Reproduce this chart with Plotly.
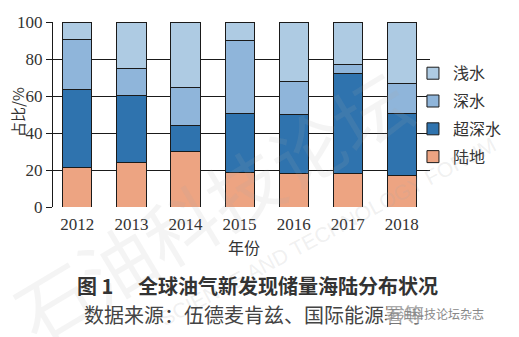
import plotly.graph_objects as go

years = ["2012", "2013", "2014", "2015", "2016", "2017", "2018"]
land = [21.5, 24.2, 30.1, 18.8, 17.9, 17.9, 17.2]
ultra_deep = [41.9, 36.0, 14.0, 31.7, 32.1, 54.3, 33.3]
deep = [26.9, 14.5, 20.4, 39.3, 17.9, 4.9, 16.2]
shallow = [9.7, 25.3, 35.5, 10.2, 32.1, 22.9, 33.3]
y_ticks = [0, 20, 40, 60, 80, 100]

series = [
    ("陆地", land, "#EDA482", 4),
    ("超深水", ultra_deep, "#2F73AE", 3),
    ("深水", deep, "#8FB5DA", 2),
    ("浅水", shallow, "#AECBE3", 1),
]

fig = go.Figure()
for name, vals, color, rank in series:
    fig.add_trace(go.Bar(
        x=years, y=vals, name=name, legendgroup=name, legendrank=rank,
        marker=dict(color=color, line=dict(color="#1a1a1a", width=1)),
        width=0.54,
    ))

serif = "Liberation Serif, Noto Sans CJK SC, serif"
cjk = "Noto Sans CJK SC, sans-serif"

L, R, T, B = 53, 440, 21.5, 207.5
PW, PH = R - L, B - T


def px(x):
    return (x - L) / PW


def py(y):
    return (B - y) / PH


fig.update_layout(
    width=519, height=337,
    margin=dict(l=L, r=519 - R, t=T, b=337 - B),
    paper_bgcolor="white", plot_bgcolor="white",
    barmode="stack",
    showlegend=True,
    legend=dict(
        x=px(519), y=py(56), xanchor="right", yanchor="top",
        traceorder="grouped", tracegroupgap=4,
        font=dict(family=cjk, size=16, color="#333"),
        bgcolor="rgba(0,0,0,0)", itemwidth=30,
    ),
    xaxis=dict(
        type="category", range=[-0.45, 6.52], automargin=False,
        showline=False, showgrid=False, ticks="", ticklabelstandoff=5,
        tickfont=dict(family=serif, size=17, color="#333"),
    ),
    yaxis=dict(
        range=[0, 100], tickvals=y_ticks, automargin=False,
        showline=True, linecolor="#1a1a1a", linewidth=1,
        ticks="outside", ticklen=6, tickcolor="#1a1a1a",
        showgrid=True, gridcolor="#1a1a1a", gridwidth=1,
        zeroline=False,
        tickfont=dict(family=serif, size=17, color="#333"),
    ),
)

anns = [
    dict(text="石油科技论坛", x=px(215), y=py(205), textangle=-31,
         font=dict(family=cjk, size=74, color="rgba(170,170,170,0.13)")),
    dict(text="SCIENCE AND TECHNOLOGY FORUM", x=px(335), y=py(232), textangle=-28,
         font=dict(family="Liberation Sans", size=21, color="rgba(170,170,170,0.18)")),
    dict(text="占比/%", x=px(16), y=py(112), textangle=-90,
         font=dict(family=cjk, size=15, color="#333")),
    dict(text="年份", x=px(249), y=py(248),
         font=dict(family=cjk, size=16, color="#333")),
    dict(text="<b>图 1　 全球油气新发现储量海陆分布状况</b>", x=px(263), y=py(286),
         font=dict(family=cjk, size=20, color="#333")),
    dict(text="数据来源：伍德麦肯兹、国际能源署等", x=px(259), y=py(316),
         font=dict(family=cjk, size=20, color="#444")),
    dict(text="石油科技论坛杂志", x=px(446), y=py(315),
         font=dict(family=cjk, size=12, color="#888"), bgcolor="rgba(255,255,255,0.55)"),
]
for a in anns:
    a.update(xref="paper", yref="paper", showarrow=False, xanchor="center", yanchor="middle")
fig.update_layout(annotations=anns)

fig.write_html("out.html")
